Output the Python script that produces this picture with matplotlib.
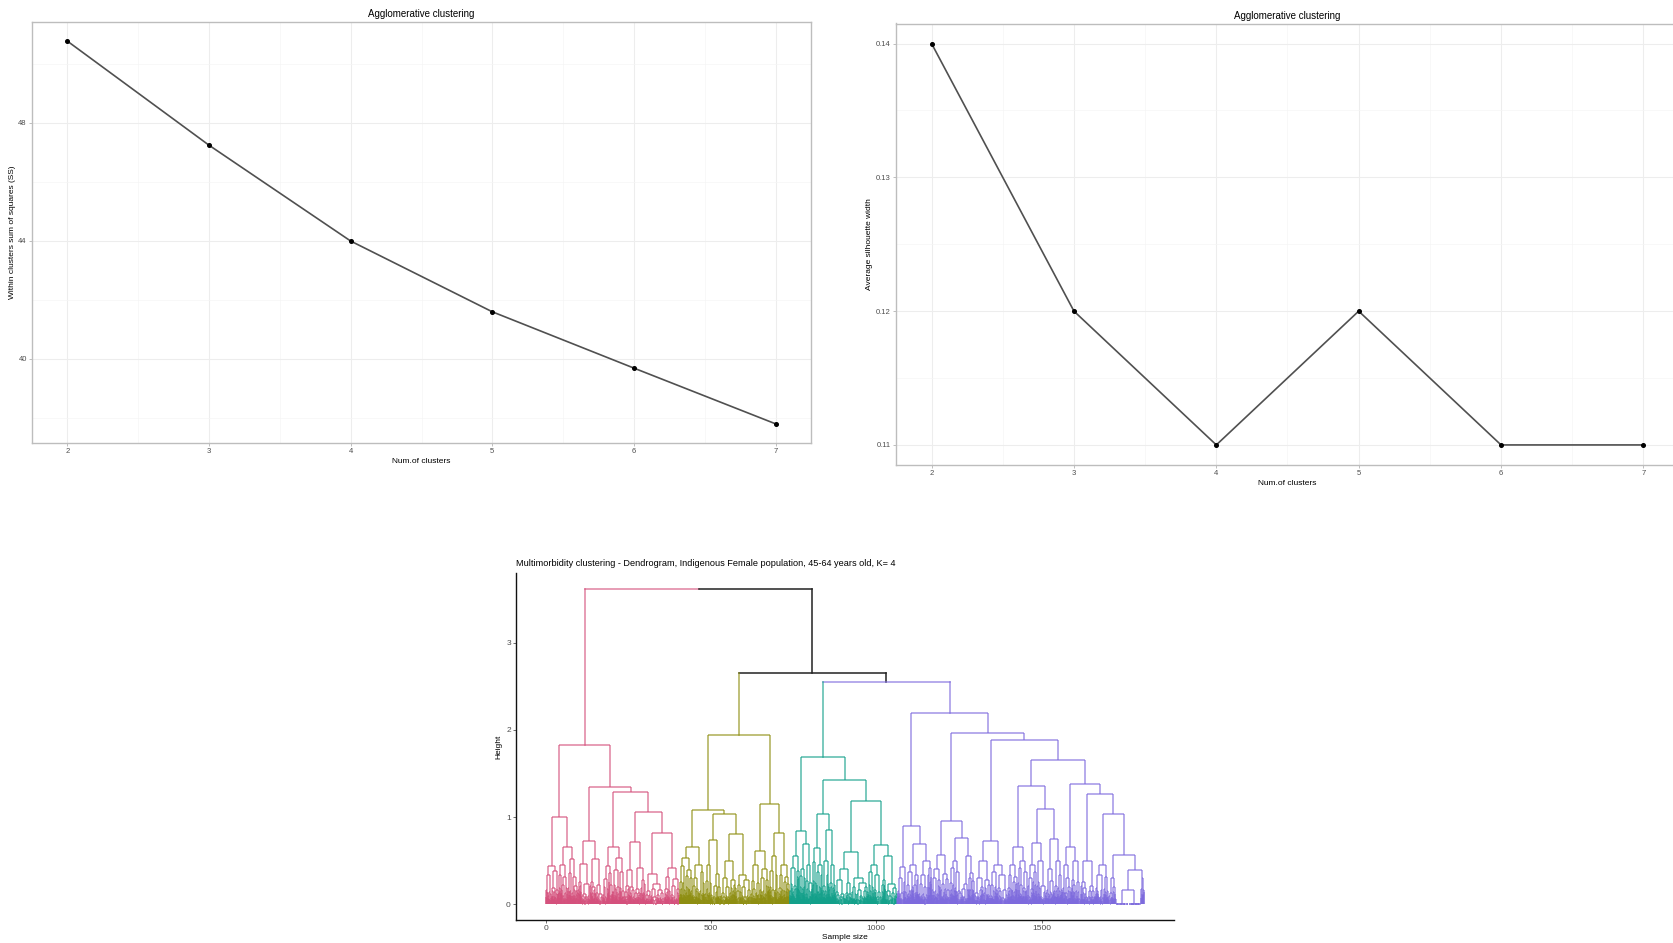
import matplotlib
matplotlib.use("Agg")
import matplotlib.pyplot as plt
from matplotlib.collections import LineCollection
from matplotlib.ticker import FixedLocator

plt.rcParams['font.family'] = ['Liberation Sans', 'DejaVu Sans']

# ---------------- data ----------------
num_clusters = [2, 3, 4, 5, 6, 7]
wss_values = [50.77, 47.24, 43.99, 41.59, 39.68, 37.79]
silhouette_values = [0.14, 0.12, 0.11, 0.12, 0.11, 0.11]

# dendrogram: internal node = [height, left, right]; leaf group = (n_samples, top_height)
pink_tree = [1.83,
    [1.00,
        [0.44, (17, 0.33), (21, 0.38)],
        [0.66, (28, 0.45), (31, 0.52)]],
    [1.35,
        [0.72, (36, 0.46), (39, 0.52)],
        [1.29,
            [0.66, (31, 0.44), (34, 0.53)],
            [1.06,
                [0.71, (31, 0.39), (33, 0.42)],
                [0.82, (58, 0.35), (46, 0.42)]]]]]

olive_tree = [1.94,
    [1.08,
        [0.66, (38, 0.53), (37, 0.45)],
        [1.04,
            [0.74, (25, 0.45), (25, 0.35)],
            [0.81, (45, 0.50), (45, 0.34)]]],
    [1.15,
        [0.61, (27, 0.45), (28, 0.40)],
        [0.82, (30, 0.55), (33, 0.45)]]]

teal_tree = [1.69,
    [0.84, (30, 0.55), [0.69, (18, 0.40), (19, 0.45)]],
    [1.43,
        [1.03, (32, 0.64), [0.85, (19, 0.50), (19, 0.45)]],
        [1.18,
            [0.60, (48, 0.40), (52, 0.30)],
            [0.68, (40, 0.45), (48, 0.55)]]]]

purple_tree = [2.19,
    [0.90, (27, 0.43), [0.69, (38, 0.45), (39, 0.50)]],
    [1.96,
        [0.95, [0.56, (27, 0.40), (28, 0.35)], [0.76, (35, 0.50), (40, 0.55)]],
        [1.89,
            [0.72, (48, 0.50), (52, 0.45)],
            [1.65,
                [1.36,
                    [0.66, (30, 0.45), (30, 0.50)],
                    [1.09,
                        [0.70, (27, 0.45), (28, 0.50)],
                        [0.75, (25, 0.40), (25, 0.50)]]],
                [1.375,
                    [0.66, (27, 0.45), (28, 0.50)],
                    [1.27,
                        (45, 0.50),
                        [1.03,
                            (40, 0.45),
                            [0.56, (22, 0.30),
                                [0.39, [0.16, (38, 0.0), (38, 0.0)], (10, 0.30)]]]]]]]]]

root_height = 3.62
olive_rest_height = 2.65
teal_purple_height = 2.55

cluster_colors = ['#D4507C', '#8E8E10', '#12A08A', '#7D6ADD']
dend_title = "Multimorbidity clustering - Dendrogram, Indigenous Female population, 45-64 years old, K= 4"

# rendering rules for the unreadable fine structure at the bottom
SPLITS = [0.5, 0.38, 0.62, 0.45, 0.3, 0.55, 0.7, 0.42, 0.58]
HFAC = [0.7, 0.5, 0.82, 0.6, 0.42, 0.75, 0.55, 0.66]

state = {'leaf': 0, 'k': 0}


def bush(n, h, segs):
    if n == 1:
        state['leaf'] += 1
        return float(state['leaf']), 0.0
    state['k'] += 1
    k = state['k']
    p = SPLITS[k % len(SPLITS)]
    a = min(max(1, int(round(n * p))), n - 1)
    b = n - a
    h1 = h * HFAC[k % len(HFAC)] if a > 1 else 0.0
    h2 = h * HFAC[(k + 3) % len(HFAC)] if b > 1 else 0.0
    if h1 < 0.035:
        h1 = 0.0
    if h2 < 0.035:
        h2 = 0.0
    xl, hl = bush(a, h1, segs)
    xr, hr = bush(b, h2, segs)
    segs += [[(xl, hl), (xl, h)], [(xl, h), (xr, h)], [(xr, h), (xr, hr)]]
    return (xl + xr) / 2, h


def build(node, segs):
    if isinstance(node, tuple):
        return bush(node[0], node[1], segs)
    h, l, r = node
    xl, hl = build(l, segs)
    xr, hr = build(r, segs)
    segs += [[(xl, hl), (xl, h)], [(xl, h), (xr, h)], [(xr, h), (xr, hr)]]
    return (xl + xr) / 2, h


# ---------------- figure ----------------
W, H = 1673, 943
fig = plt.figure(figsize=(W / 100, H / 100), dpi=100)
fig.patch.set_facecolor('white')


def px_axes(left, top, right, bottom):
    return fig.add_axes([left / W, 1 - bottom / H, (right - left) / W, (bottom - top) / H])


def style_light(ax):
    for s in ax.spines.values():
        s.set_color('#BDBDBD')
        s.set_linewidth(1.0)
    ax.grid(True, which='major', color='#EDEDED', linewidth=0.8)
    ax.grid(True, which='minor', color='#F5F5F5', linewidth=0.5)
    ax.set_axisbelow(True)
    ax.tick_params(which='major', length=2.2, width=0.6, color='#B3B3B3',
                   labelsize=5.5, labelcolor='#4D4D4D', pad=1.5)
    ax.tick_params(which='minor', length=0)


# left elbow panel
ax1 = px_axes(32, 22, 811, 443)
ax1.plot(num_clusters, wss_values, color='#505050', linewidth=1.2, zorder=3)
ax1.plot(num_clusters, wss_values, 'o', color='black', markersize=2.6, zorder=4)
ax1.set_xlim(1.75, 7.25)
ax1.set_ylim(37.14, 51.42)
ax1.set_xticks(num_clusters)
ax1.xaxis.set_minor_locator(FixedLocator([2.5, 3.5, 4.5, 5.5, 6.5]))
ax1.set_yticks([40, 44, 48])
ax1.yaxis.set_minor_locator(FixedLocator([38, 42, 46, 50]))
style_light(ax1)
ax1.set_title('Agglomerative clustering', fontsize=7, pad=3.5)
ax1.set_xlabel('Num.of clusters', fontsize=6, labelpad=2)
ax1.set_ylabel('Within clusters sum of squares (SS)', fontsize=6, labelpad=2)

# right silhouette panel (extends past the right edge)
ax2 = px_axes(896, 23.5, 1679, 465)
ax2.plot(num_clusters, silhouette_values, color='#505050', linewidth=1.2, zorder=3)
ax2.plot(num_clusters, silhouette_values, 'o', color='black', markersize=2.6, zorder=4)
ax2.set_xlim(1.75, 7.25)
ax2.set_ylim(0.1085, 0.1415)
ax2.set_xticks(num_clusters)
ax2.xaxis.set_minor_locator(FixedLocator([2.5, 3.5, 4.5, 5.5, 6.5]))
ax2.set_yticks([0.11, 0.12, 0.13, 0.14])
ax2.set_yticklabels(['0.11', '0.12', '0.13', '0.14'])
ax2.yaxis.set_minor_locator(FixedLocator([0.115, 0.125, 0.135]))
style_light(ax2)
ax2.set_title('Agglomerative clustering', fontsize=7, pad=3.5)
ax2.set_xlabel('Num.of clusters', fontsize=6, labelpad=2)
ax2.set_ylabel('Average silhouette width', fontsize=6, labelpad=2)

# dendrogram
ax3 = px_axes(516, 573, 1174, 920)
cluster_segs = []
tops = []
for tree in [pink_tree, olive_tree, teal_tree, purple_tree]:
    segs = []
    x, h = build(tree, segs)
    cluster_segs.append(segs)
    tops.append((x, h))
n_leaves = state['leaf']

for segs, col in zip(cluster_segs, cluster_colors):
    ax3.add_collection(LineCollection(segs, colors=col, linewidths=1.1, alpha=0.72))

(xp, hp), (xo, ho), (xt, ht), (xu, hu) = tops
x_tp = (xt + xu) / 2
x_rest = (xo + x_tp) / 2
x_root = (xp + x_rest) / 2
# links above the clusters
ax3.plot([xp, xp], [hp, root_height], color=cluster_colors[0], lw=1.1, alpha=0.72)
ax3.plot([xp, x_root], [root_height, root_height], color=cluster_colors[0], lw=1.1, alpha=0.72)
ax3.plot([x_root, x_rest], [root_height, root_height], color='#222222', lw=1.1)
ax3.plot([x_rest, x_rest], [root_height, olive_rest_height], color='#222222', lw=1.1)
ax3.plot([xo, x_tp], [olive_rest_height, olive_rest_height], color='#222222', lw=1.1)
ax3.plot([xo, xo], [ho, olive_rest_height], color=cluster_colors[1], lw=1.1, alpha=0.72)
ax3.plot([x_tp, x_tp], [teal_purple_height, olive_rest_height], color='#222222', lw=1.1)
ax3.plot([xt, xu], [teal_purple_height, teal_purple_height], color=cluster_colors[3], lw=1.1, alpha=0.72)
ax3.plot([xt, xt], [ht, teal_purple_height], color=cluster_colors[2], lw=1.1, alpha=0.72)
ax3.plot([xu, xu], [hu, teal_purple_height], color=cluster_colors[3], lw=1.1, alpha=0.72)

pad = 0.05 * (n_leaves - 1)
ax3.set_xlim(1 - pad, n_leaves + pad)
ypad = 0.05 * root_height
ax3.set_ylim(-ypad, root_height + ypad)
ax3.set_xticks([0, 500, 1000, 1500])
ax3.set_yticks([0, 1, 2, 3])
for side in ['top', 'right']:
    ax3.spines[side].set_visible(False)
for side in ['left', 'bottom']:
    ax3.spines[side].set_color('#111111')
    ax3.spines[side].set_linewidth(1.0)
ax3.tick_params(length=2.2, width=0.6, color='#555555', labelsize=6, labelcolor='#4D4D4D', pad=1.5)
ax3.set_title(dend_title, loc='left', fontsize=6.6, pad=5)
ax3.set_xlabel('Sample size', fontsize=6, labelpad=1)
ax3.set_ylabel('Height', fontsize=6, labelpad=3)

fig.savefig('out.png', dpi=100, facecolor='white')
